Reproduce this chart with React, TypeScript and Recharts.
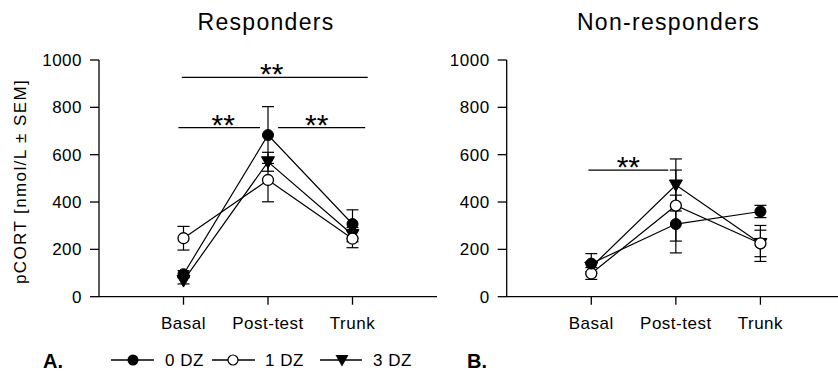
import React from 'react';
import { LineChart, Line, XAxis, YAxis, ErrorBar, ReferenceLine } from 'recharts';

const categories = ['Basal', 'Post-test', 'Trunk'];
const positions = [1, 2, 3];
const yTicks = [0, 200, 400, 600, 800, 1000];

// Responders
const resp0 = [95, 683, 307];
const resp0Err = [15, 120, 60];
const resp1 = [247, 493, 245];
const resp1Err = [50, 92, 38];
const resp3 = [68, 570, 262];
const resp3Err = [14, 40, 30];

// Non-responders
const non0 = [140, 307, 360];
const non0Err = [42, 122, 26];
const non1 = [98, 385, 225];
const non1Err = [25, 150, 76];
const non3 = [125, 472, 225];
const non3Err = [20, 110, 56];

// significance brackets (x in category units, y in nmol/L)
const respBrackets = [
  { x1: 0.98, x2: 3.18, y: 927, dx: -3 },
  { x1: 0.94, x2: 1.905, y: 714, dx: 4 },
  { x1: 2.12, x2: 3.15, y: 714, dx: -5 },
];
const nonBrackets = [{ x1: 0.966, x2: 1.91, y: 535, dx: 0 }];

const FONT = '"Liberation Sans", Arial, Helvetica, sans-serif';

const buildRows = (v0: number[], e0: number[], v1: number[], e1: number[], v3: number[], e3: number[]) =>
  positions.map((x, i) => ({ x, v0: v0[i], e0: e0[i], v1: v1[i], e1: e1[i], v3: v3[i], e3: e3[i] }));

const respData = buildRows(resp0, resp0Err, resp1, resp1Err, resp3, resp3Err);
const nonData = buildRows(non0, non0Err, non1, non1Err, non3, non3Err);

const TriangleDot = (props: any) => {
  const { cx, cy, index } = props;
  if (cx == null || cy == null) return <g key={`t-${index}`} />;
  return (
    <path
      key={`t-${index}`}
      d={`M${cx - 6.5},${cy - 5} L${cx + 6.5},${cy - 5} L${cx},${cy + 6.5} Z`}
      fill="#000"
      stroke="#000"
      strokeWidth={1}
    />
  );
};

const Stars = (props: any) => {
  const { viewBox, dx = 0 } = props;
  if (!viewBox) return null;
  const cx = viewBox.x + viewBox.width / 2 + dx;
  return (
    <text x={cx} y={viewBox.y + 7} textAnchor="middle" fontSize={30} fontFamily={FONT} fill="#000">
      **
    </text>
  );
};

const axisLine = { stroke: '#000', strokeWidth: 1.3 };
const tickStyle = { fill: '#000', fontSize: 17, fontFamily: FONT, letterSpacing: 0.5 };

const Panel = ({ data, brackets, yAxisWidth, width }: any) => (
  <LineChart
    width={width}
    height={373}
    data={data}
    margin={{ top: 60, right: 0, bottom: 46.3, left: 0 }}
  >
    <XAxis
      type="number"
      dataKey="x"
      domain={[0, 4]}
      ticks={positions}
      tickFormatter={(v: number) => categories[v - 1]}
      axisLine={axisLine}
      tickLine={axisLine}
      tickSize={8}
      tickMargin={12}
      tick={tickStyle}
      height={30}
      interval={0}
      allowDataOverflow
    />
    <YAxis
      type="number"
      domain={[0, 1000]}
      ticks={yTicks}
      axisLine={axisLine}
      tickLine={axisLine}
      tickSize={9}
      tickMargin={8}
      tick={tickStyle}
      width={yAxisWidth}
      interval={0}
    />
    {brackets.map((b: any, i: number) => (
      <ReferenceLine
        key={i}
        segment={[{ x: b.x1, y: b.y }, { x: b.x2, y: b.y }]}
        stroke="#000"
        strokeWidth={1.2}
        ifOverflow="visible"
        label={<Stars dx={b.dx} />}
      />
    ))}
    <Line
      dataKey="v3"
      stroke="#000"
      strokeWidth={1.2}
      isAnimationActive={false}
      dot={(p: any) => <TriangleDot {...p} />}
      activeDot={false}
    >
      <ErrorBar dataKey="e3" width={6} stroke="#000" strokeWidth={1.2} direction="y" />
    </Line>
    <Line
      dataKey="v1"
      stroke="#000"
      strokeWidth={1.2}
      isAnimationActive={false}
      dot={{ r: 5.5, fill: '#fff', stroke: '#000', strokeWidth: 1.3 }}
      activeDot={false}
    >
      <ErrorBar dataKey="e1" width={6} stroke="#000" strokeWidth={1.2} direction="y" />
    </Line>
    <Line
      dataKey="v0"
      stroke="#000"
      strokeWidth={1.2}
      isAnimationActive={false}
      dot={{ r: 5.5, fill: '#000', stroke: '#000', strokeWidth: 1 }}
      activeDot={false}
    >
      <ErrorBar dataKey="e0" width={6} stroke="#000" strokeWidth={1.2} direction="y" />
    </Line>
  </LineChart>
);

const legendY = 360;

export default function App() {
  return (
    <div
      style={{
        position: 'absolute',
        left: 0,
        top: 0,
        width: 838,
        height: 373,
        overflow: 'hidden',
        background: '#fff',
        fontFamily: FONT,
      }}
    >
      <div style={{ position: 'absolute', left: 0, top: 0 }}>
        <Panel data={respData} brackets={respBrackets} yAxisWidth={99} width={437} />
      </div>
      <div style={{ position: 'absolute', left: 420, top: 0 }}>
        <Panel data={nonData} brackets={nonBrackets} yAxisWidth={86.7} width={425} />
      </div>
      <svg
        width={838}
        height={373}
        style={{ position: 'absolute', left: 0, top: 0, pointerEvents: 'none' }}
        fontFamily={FONT}
      >
        <text x={266} y={29.5} textAnchor="middle" fontSize={23} letterSpacing={1.3} fill="#000">
          Responders
        </text>
        <text x={668.5} y={30} textAnchor="middle" fontSize={23} letterSpacing={1.3} fill="#000">
          Non-responders
        </text>
        <text
          transform="translate(26,181.5) rotate(-90)"
          textAnchor="middle"
          fontSize={17}
          letterSpacing={1.4}
          fill="#000"
        >
          pCORT [nmol/L ± SEM]
        </text>

        <text x={43} y={368} fontSize={20} fontWeight="bold" fill="#000">A.</text>
        <text x={467} y={368} fontSize={20} fontWeight="bold" fill="#000">B.</text>

        <line x1={111} x2={154} y1={legendY} y2={legendY} stroke="#000" strokeWidth={1.3} />
        <circle cx={133} cy={legendY} r={5.5} fill="#000" />
        <text x={165} y={legendY + 6} fontSize={17} letterSpacing={0.5} fill="#000">0 DZ</text>

        <line x1={212} x2={255} y1={legendY} y2={legendY} stroke="#000" strokeWidth={1.3} />
        <circle cx={233} cy={legendY} r={5} fill="#fff" stroke="#000" strokeWidth={1.2} />
        <text x={265} y={legendY + 6} fontSize={17} letterSpacing={0.5} fill="#000">1 DZ</text>

        <line x1={320} x2={362} y1={legendY} y2={legendY} stroke="#000" strokeWidth={1.3} />
        <path d={`M335.5,${legendY - 5} L348.5,${legendY - 5} L342,${legendY + 6.5} Z`} fill="#000" />
        <text x={373} y={legendY + 6} fontSize={17} letterSpacing={0.5} fill="#000">3 DZ</text>
      </svg>
    </div>
  );
}
